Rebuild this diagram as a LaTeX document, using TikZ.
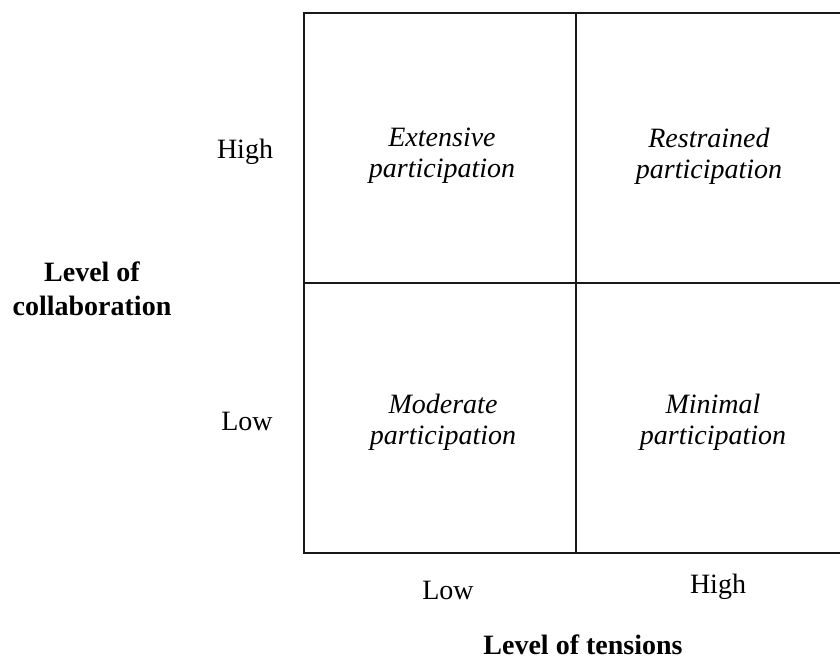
\documentclass[tikz,border=0pt]{standalone}
\usepackage{fontspec}
\setmainfont{Liberation Serif}
\begin{document}
\begin{tikzpicture}[x=1pt,y=-1pt,
  grid/.style={line width=1.7pt, draw=black!90},
  lbl/.style={font=\fontsize{28}{31}\selectfont, align=center, inner sep=0pt},
  cell/.style={font=\fontsize{28}{31}\selectfont\itshape, align=center, inner sep=0pt},
  axis/.style={font=\fontsize{28}{34}\selectfont\bfseries, align=center, inner sep=0pt}]
\useasboundingbox (0,0) rectangle (840,663);
% grid corners
\coordinate (tl) at (304,13);
\coordinate (tm) at (576,13);
\coordinate (tr) at (840,13);
\coordinate (ml) at (304,283);
\coordinate (mr) at (840,283);
\coordinate (bl) at (304,553);
\coordinate (bm) at (576,553);
\coordinate (br) at (840,553);
\draw[grid] (tr) -- (tl) -- (bl) -- (br);
\draw[grid] (tm) -- (bm);
\draw[grid] (ml) -- (mr);
% cells
\node[cell] (ext) at (442,156) {Extensive\\participation};
\node[cell] (res) at (709,156) {Restrained\\participation};
\node[cell] (mod) at (443,422) {Moderate\\participation};
\node[cell] (min) at (713,422) {Minimal\\participation};
% axis tick labels
\node[lbl] (yhigh) at (245,152) {High};
\node[lbl] (ylow) at (247,421) {Low};
\node[lbl] (xlow) at (448,590) {Low};
\node[lbl] (xhigh) at (718,587) {High};
% axis titles
\node[axis] (ytitle) at (92,289) {Level of\\collaboration};
\node[axis] (xtitle) at (583,645) {Level of tensions};
\end{tikzpicture}
\end{document}
